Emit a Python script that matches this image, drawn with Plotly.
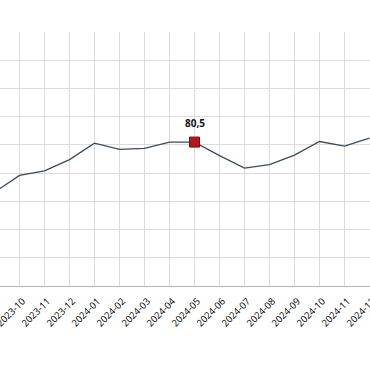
import plotly.graph_objects as go

months = ["2023-09", "2023-10", "2023-11", "2023-12", "2024-01", "2024-02", "2024-03",
          "2024-04", "2024-05", "2024-06", "2024-07", "2024-08", "2024-09", "2024-10",
          "2024-11", "2024-12"]
values = [71.6, 74.6, 75.4, 77.4, 80.3, 79.2, 79.4, 80.5, 80.5, 78.1, 75.9, 76.5,
          78.2, 80.6, 79.8, 81.2]
highlight_month = "2024-05"
highlight_value = 80.5

fig = go.Figure()
fig.add_trace(go.Scatter(
    x=months, y=values, mode="lines",
    line=dict(color="#3b4c5a", width=1.3),
    hoverinfo="skip", showlegend=False,
))
fig.add_trace(go.Scatter(
    x=[highlight_month], y=[highlight_value], mode="markers",
    marker=dict(symbol="square", size=10, color="#b3181d",
                line=dict(color="#7a0d10", width=1)),
    showlegend=False, hoverinfo="skip",
))
fig.add_annotation(
    x=highlight_month, y=highlight_value,
    text="<b>" + f"{highlight_value:.1f}".replace(".", ",") + "</b>",
    showarrow=False, yanchor="middle", yshift=19,
    font=dict(family="Open Sans, Arial, sans-serif", size=10, color="#111"),
)

fig.update_layout(
    width=370, height=380,
    margin=dict(l=0, r=0, t=32, b=94, autoexpand=False),
    paper_bgcolor="white", plot_bgcolor="white",
    font=dict(family="Open Sans, Arial, sans-serif", size=11, color="#222"),
    xaxis=dict(
        type="category", range=[0.22, 15.02], automargin=False,
        tickangle=-45, showgrid=True, gridcolor="#dcdcdc", gridwidth=1,
        showline=True, linecolor="#b5b5b5", linewidth=1,
        ticks="", ticklabelstandoff=5, ticklabelshift=3,
        tickfont=dict(size=9.5, color="#000"),
    ),
    yaxis=dict(
        range=[55, 100], dtick=5, tick0=55, automargin=False,
        showgrid=True, gridcolor="#dcdcdc", gridwidth=1,
        showticklabels=False, zeroline=False, showline=False,
    ),
)

fig.write_html("out.html", config={"displayModeBar": False},
               post_script="document.body.style.margin='0';")
